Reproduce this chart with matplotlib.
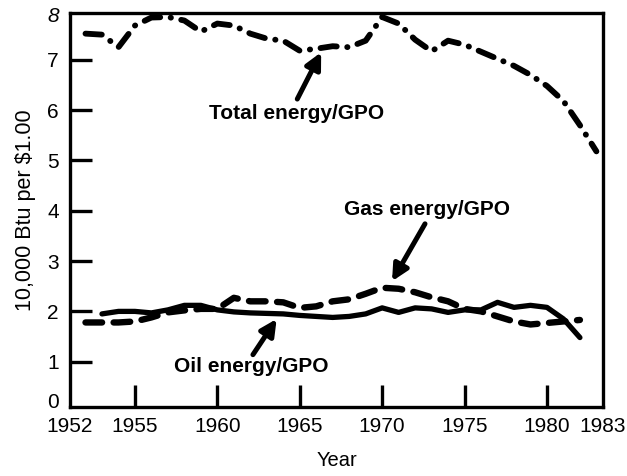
import matplotlib
matplotlib.use("Agg")
import matplotlib.pyplot as plt

# ---- data ----
years_total = list(range(1952, 1984))
total_energy = [7.52, 7.50, 7.25, 7.68, 7.84, 7.85, 7.78, 7.56, 7.72, 7.68,
                7.52, 7.42, 7.38, 7.18, 7.22, 7.27, 7.25, 7.38, 7.85, 7.72,
                7.40, 7.17, 7.38, 7.30, 7.16, 7.02, 6.88, 6.70, 6.48, 6.18,
                5.70, 5.18]

years_gas = list(range(1952, 1983))
gas_energy = [1.78, 1.78, 1.78, 1.80, 1.88, 1.98, 2.02, 2.05, 2.05, 2.27,
              2.20, 2.20, 2.18, 2.07, 2.10, 2.20, 2.24, 2.35, 2.47, 2.45,
              2.38, 2.28, 2.20, 2.05, 2.00, 1.90, 1.80, 1.74, 1.77, 1.80,
              1.83]

years_oil = list(range(1953, 1983))
oil_energy = [1.95, 2.00, 2.00, 1.97, 2.03, 2.12, 2.12, 2.03, 1.99, 1.97,
              1.96, 1.95, 1.92, 1.90, 1.88, 1.90, 1.95, 2.07, 1.98, 2.07,
              2.05, 1.98, 2.03, 2.03, 2.18, 2.08, 2.12, 2.08, 1.85, 1.48]

x_tick_years = [1955, 1960, 1965, 1970, 1975, 1980]
y_tick_vals = [1, 2, 3, 4, 5, 6, 7]

# ---- figure ----
plt.rcParams['font.family'] = ['Liberation Sans', 'DejaVu Sans']
fig = plt.figure(figsize=(6.27, 4.76), dpi=100)
ax = fig.add_axes([70/627, 1-407/476, (603-70)/627, (407-13)/476])

x0, x1 = 1951.06, 1983.4
y0, y1 = 0.1, 7.93
ax.set_xlim(x0, x1)
ax.set_ylim(y0, y1)

ln, = ax.plot(years_total, total_energy, color='black', lw=4.2,
              dash_capstyle='round', solid_capstyle='round')
ln.set_dashes([2.8, 1.8, 0.05, 1.8])

lg, = ax.plot(years_gas, gas_energy, color='black', lw=4.6,
              dash_capstyle='round')
lg.set_dashes([2.6, 1.8])

ax.plot(years_oil, oil_energy, color='black', lw=3.8,
        solid_capstyle='round', solid_joinstyle='round')

# ticks
xt = [x0] + x_tick_years + [x1]
ax.set_xticks(xt)
ax.set_xticklabels(['1952'] + [str(y) for y in x_tick_years] + ['1983'])
yt = [0.22] + y_tick_vals + [7.9]
ax.set_yticks(yt)
ylabels = ax.set_yticklabels(['0'] + [str(v) for v in y_tick_vals] + ['8'])
ylabels[-1].set_style('italic')

ax.tick_params(axis='both', direction='in', length=16, width=2.4,
               labelsize=15, color='black')
ax.tick_params(axis='x', pad=7)
ax.tick_params(axis='y', pad=8)
for t in (ax.xaxis.get_major_ticks()[0], ax.xaxis.get_major_ticks()[-1],
          ax.yaxis.get_major_ticks()[0], ax.yaxis.get_major_ticks()[-1]):
    t.tick1line.set_visible(False)

for s in ax.spines.values():
    s.set_linewidth(2.4)

ax.set_xlabel('Year', fontsize=14.5, labelpad=11)
ax.set_ylabel('10,000 Btu per $1.00', fontsize=15.5, labelpad=8)

# annotations
txt_kw = dict(fontsize=15, fontweight='bold', ha='center', va='center')
arrow_kw = dict(arrowstyle='-|>', lw=3.6, color='black', mutation_scale=24,
                shrinkA=0, shrinkB=0)

ax.text(1964.83, 5.94, 'Total energy/GPO', **txt_kw)
ax.annotate('', xy=(1966.3, 7.15), xytext=(1964.85, 6.22), arrowprops=arrow_kw)

ax.text(1972.72, 4.02, 'Gas energy/GPO', **txt_kw)
ax.annotate('', xy=(1970.6, 2.6), xytext=(1972.6, 3.74), arrowprops=arrow_kw)

ax.text(1962.04, 0.9, 'Oil energy/GPO', **txt_kw)
ax.annotate('', xy=(1963.6, 1.85), xytext=(1962.16, 1.14), arrowprops=arrow_kw)

fig.savefig('out.png', dpi=100)
